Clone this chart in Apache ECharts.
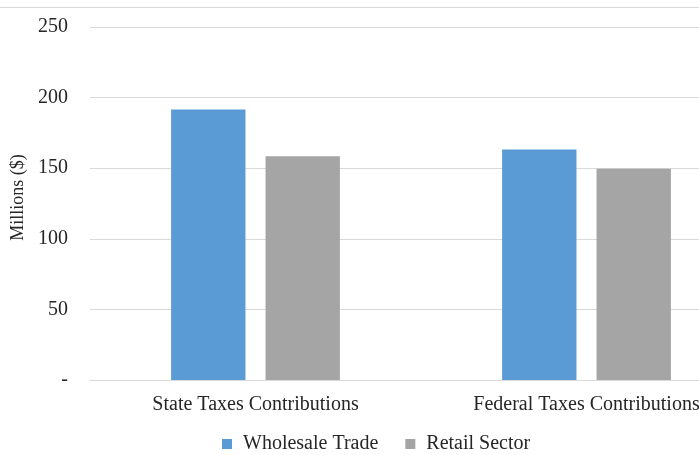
<!DOCTYPE html>
<html><head><meta charset="utf-8">
<script src="https://cdn.jsdelivr.net/npm/echarts@6/dist/echarts.min.js"></script>
<style>html,body{margin:0;padding:0;background:#fff}#c{width:699px;height:455px}</style>
</head><body><div id="c"></div>
<script>
const categories = ['State Taxes Contributions', 'Federal Taxes Contributions'];
const wholesale = [191.5, 163.3];
const retail = [158.5, 149.6];
const yTicks = [0, 50, 100, 150, 200, 250];
const seriesNames = ['Wholesale Trade', 'Retail Sector'];

const font = 'Liberation Serif, Times New Roman, serif';
const txt = '#262626';
const chart = echarts.init(document.getElementById('c'));
chart.setOption({
  animation: false,
  textStyle: { fontFamily: font },
  graphic: [{ type: 'line', shape: { x1: 0, y1: 7.5, x2: 699, y2: 7.5 }, style: { stroke: '#d9d9d9', lineWidth: 1 } }],
  grid: { left: 90, width: 662, top: 27, bottom: 75, outerBoundsMode: 'none', containLabel: false },
  legend: {
    data: seriesNames, top: 429, left: 217, itemWidth: 10, itemHeight: 10, itemGap: 27,
    icon: 'rect', textStyle: { fontFamily: font, fontSize: 20, color: txt, padding: [0, 0, 0, 6] }
  },
  xAxis: {
    type: 'category', data: categories,
    axisLine: { lineStyle: { color: '#d9d9d9' } }, axisTick: { show: false },
    axisLabel: { fontFamily: font, fontSize: 20, color: txt, margin: 15 }
  },
  yAxis: {
    type: 'value', min: yTicks[0], max: yTicks[yTicks.length - 1], interval: 50,
    name: 'Millions ($)', nameLocation: 'middle', nameGap: 62,
    nameTextStyle: { fontFamily: font, fontSize: 18, color: txt, padding: [0, 0, 0, 12] },
    axisLine: { show: false }, axisTick: { show: false },
    splitLine: { lineStyle: { color: '#d9d9d9' } },
    axisLabel: { fontFamily: font, fontSize: 20, color: txt, margin: 22, formatter: v => v === 0 ? '-' : v }
  },
  series: [
    { name: seriesNames[0], type: 'bar', data: wholesale, itemStyle: { color: '#5b9bd5' }, barGap: '27%', barCategoryGap: '49%' },
    { name: seriesNames[1], type: 'bar', data: retail, itemStyle: { color: '#a5a5a5' } }
  ]
});
</script></body></html>
